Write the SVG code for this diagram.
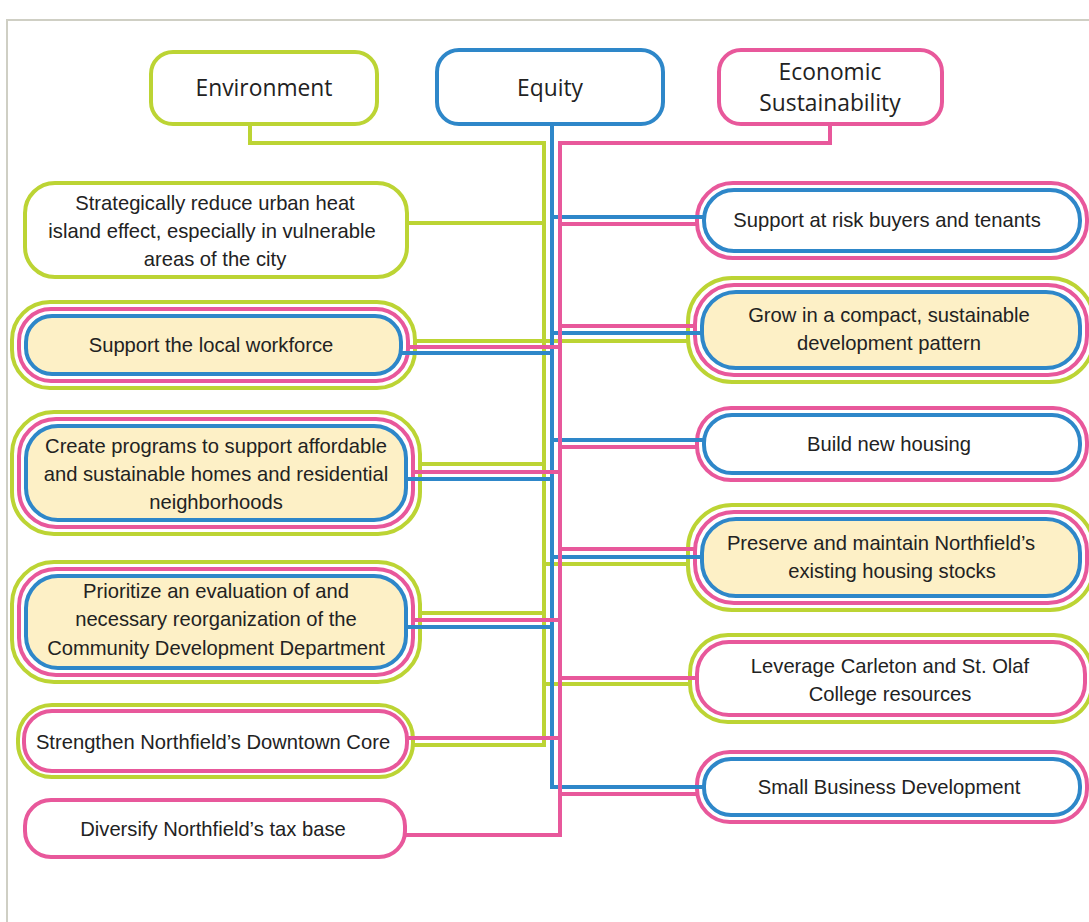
<svg xmlns="http://www.w3.org/2000/svg" width="1089" height="922" viewBox="0 0 1089 922">
<style>
.g{fill:#fff;stroke:#bcd434;stroke-width:4}
.b{fill:#fff;stroke:#2e87c9;stroke-width:4}
.p{fill:#fff;stroke:#e8589b;stroke-width:4}
.c{fill:#fdf0c6}
.t{font-family:"Liberation Sans",Arial,sans-serif;font-size:20.2px;fill:#222;text-anchor:middle}
.h{font-family:"Open Sans","Liberation Sans",sans-serif;font-size:22.8px;fill:#222;text-anchor:middle}
.lg{fill:none;stroke:#bcd434;stroke-width:4}
.lb{fill:none;stroke:#2e87c9;stroke-width:4}
.lp{fill:none;stroke:#e8589b;stroke-width:4}
</style>
<rect width="1089" height="922" fill="#fff"/>
<path d="M7,922 V20 H1089" fill="none" stroke="#cfcfc4" stroke-width="2"/>

<g id="environment"><rect class="g" x="151" y="52" width="226" height="72" rx="22"/><text class="h" x="264" y="96">Environment</text></g>
<g id="equity"><rect class="b" x="437" y="50" width="226" height="74" rx="22"/><text class="h" x="550" y="96">Equity</text></g>
<g id="economic"><rect class="p" x="719" y="50" width="223" height="74" rx="22"/><text class="h" x="830" y="80">Economic</text><text class="h" x="830" y="111">Sustainability</text></g>

<g id="strategic"><rect class="g" x="25" y="183" width="382" height="94" rx="30"/>
<text class="t" x="215" y="210">Strategically reduce urban heat</text>
<text class="t" x="212" y="238">island effect, especially in vulnerable</text>
<text class="t" x="215" y="266">areas of the city</text></g>

<g id="workforce"><rect class="g" x="12" y="302" width="403" height="86" rx="38"/><rect class="p" x="19" y="309" width="389" height="72" rx="32"/><rect class="b c" x="26" y="316" width="375" height="58" rx="26"/>
<text class="t" x="211" y="352">Support the local workforce</text></g>

<g id="create"><rect class="g" x="12" y="412" width="408" height="122" rx="42"/><rect class="p" x="19" y="419" width="394" height="108" rx="37"/><rect class="b c" x="26" y="426" width="380" height="94" rx="32"/>
<text class="t" x="216" y="453">Create programs to support affordable</text>
<text class="t" x="216" y="481">and sustainable homes and residential</text>
<text class="t" x="216" y="509">neighborhoods</text></g>

<g id="prioritize"><rect class="g" x="12" y="562" width="408" height="120" rx="42"/><rect class="p" x="19" y="569" width="394" height="106" rx="37"/><rect class="b c" x="26" y="576" width="380" height="92" rx="32"/>
<text class="t" x="216" y="598">Prioritize an evaluation of and</text>
<text class="t" x="216" y="626">necessary reorganization of the</text>
<text class="t" x="216" y="655">Community Development Department</text></g>

<g id="strengthen"><rect class="g" x="18" y="705" width="395" height="72" rx="34"/><rect class="p" x="24" y="711" width="383" height="60" rx="28"/>
<text class="t" x="213" y="749">Strengthen Northfield’s Downtown Core</text></g>

<g id="diversify"><rect class="p" x="25" y="800" width="380" height="57" rx="26"/>
<text class="t" x="213" y="836">Diversify Northfield’s tax base</text></g>

<g id="atrisk"><rect class="p" x="697" y="183" width="390" height="75" rx="36"/><rect class="b" x="704" y="190" width="376" height="61" rx="30"/>
<text class="t" x="887" y="227">Support at risk buyers and tenants</text></g>

<g id="grow"><rect class="g" x="688" y="278" width="406" height="104" rx="44"/><rect class="p" x="695" y="285" width="392" height="90" rx="39"/><rect class="b c" x="702" y="292" width="378" height="76" rx="34"/>
<text class="t" x="889" y="322">Grow in a compact, sustainable</text>
<text class="t" x="889" y="350">development pattern</text></g>

<g id="build"><rect class="p" x="697" y="408" width="390" height="72" rx="34"/><rect class="b" x="704" y="415" width="376" height="58" rx="28"/>
<text class="t" x="889" y="451">Build new housing</text></g>

<g id="preserve"><rect class="g" x="688" y="505" width="406" height="105" rx="44"/><rect class="p" x="695" y="512" width="392" height="91" rx="39"/><rect class="b c" x="702" y="519" width="378" height="77" rx="34"/>
<text class="t" x="881" y="550">Preserve and maintain Northfield’s</text>
<text class="t" x="892" y="578">existing housing stocks</text></g>

<g id="leverage"><rect class="g" x="690" y="635" width="402" height="87" rx="38"/><rect class="p" x="697" y="642" width="388" height="73" rx="32"/>
<text class="t" x="890" y="673">Leverage Carleton and St. Olaf</text>
<text class="t" x="890" y="701">College resources</text></g>

<g id="smallbiz"><rect class="p" x="697" y="752" width="390" height="70" rx="33"/><rect class="b" x="704" y="759" width="376" height="56" rx="27"/>
<text class="t" x="889" y="794">Small Business Development</text></g>

<g id="connectors">
<path class="lg" d="M250,124 V143 H544 V745 H413"/>
<path class="lg" d="M407,223 H544 M415,341 H688 M420,464 H544 M544,564 H688 M420,613 H544 M544,684 H690"/>
<path class="lb" d="M552,124 V787 H704"/>
<path class="lb" d="M552,217 H704 M552,333 H702 M401,353 H552 M552,440 H704 M406,479 H552 M552,557 H702 M406,627 H552"/>
<path class="lp" d="M830,124 V143 H560 V835 H405"/>
<path class="lp" d="M560,224 H697 M560,326 H695 M408,347 H560 M560,447 H697 M413,472 H560 M560,549 H695 M413,620 H560 M560,678 H697 M407,738 H560 M560,794 H697"/>
</g>
</svg>
